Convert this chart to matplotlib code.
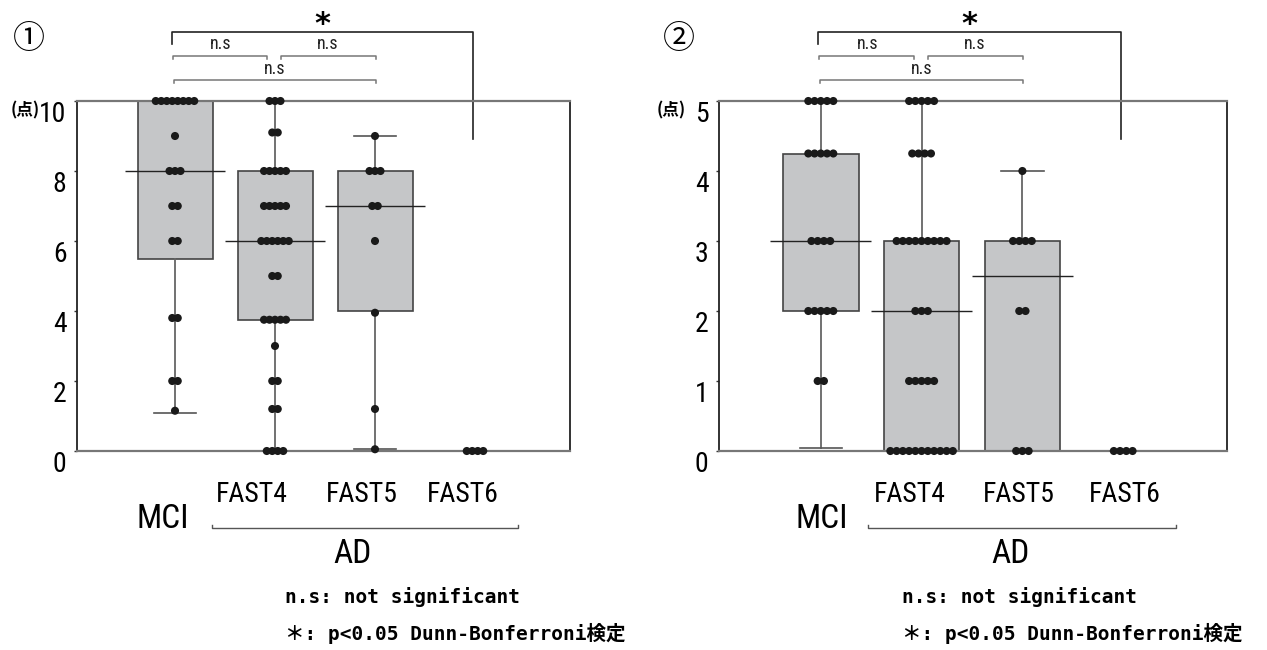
import numpy as np
import matplotlib.pyplot as plt
from matplotlib import transforms

# groups on the x axis
groups = ["MCI", "FAST4", "FAST5", "FAST6"]

# panel 1 (0-10 point score), individual scores per group
p1_mci = [10, 10, 10, 10, 10, 10, 10, 10, 9, 8, 8, 8, 7, 7, 6, 6, 3.8, 3.8, 2, 2, 1.15]
p1_fast4 = [10, 10, 10, 9.1, 9.1, 8, 8, 8, 8, 8, 7, 7, 7, 7, 7, 6, 6, 6, 6, 6, 6,
            5, 5, 3.75, 3.75, 3.75, 3.75, 3.75, 3, 2, 2, 1.2, 1.2, 0, 0, 0, 0]
p1_fast5 = [9, 8, 8, 8, 7, 7, 6, 3.95, 1.2, 0.05]
p1_fast6 = [0, 0, 0, 0]
# panel 1 box stats (MCI, FAST4, FAST5)
p1_q1 = [5.5, 3.75, 4.0]
p1_med = [8, 6, 7]
p1_q3 = [10, 8, 8]
p1_lo = [1.1, 0, 0.05]
p1_hi = [10, 10, 9]

# panel 2 (0-5 point score)
p2_mci = [5, 5, 5, 5, 5, 4.25, 4.25, 4.25, 4.25, 4.25, 3, 3, 3, 3, 2, 2, 2, 2, 2, 1, 1]
p2_fast4 = [5, 5, 5, 5, 5, 4.25, 4.25, 4.25, 4.25, 3, 3, 3, 3, 3, 3, 3, 3, 3,
            2, 2, 2, 1, 1, 1, 1, 1, 0, 0, 0, 0, 0, 0, 0, 0, 0, 0, 0]
p2_fast5 = [4, 3, 3, 3, 3, 2, 2, 0, 0, 0]
p2_fast6 = [0, 0, 0, 0]
p2_q1 = [2, 0, 0]
p2_med = [3, 2, 2.5]
p2_q3 = [4.25, 3, 3]
p2_lo = [0.04, 0, 0]
p2_hi = [5, 5, 4]

narrow = ["Roboto Condensed", "Liberation Sans Narrow", "DejaVu Sans"]
mono = ["DejaVu Sans Mono", "Noto Sans CJK JP"]
cjk = ["Noto Sans CJK JP", "DejaVu Sans"]
NARROW = dict(fontfamily=narrow, fontstretch="condensed")


def draw_panel(ax, points, q1, med, q3, lo, hi, yticks, dx):
    pos = np.arange(len(q1))
    stats = [dict(med=m, q1=a, q3=b, whislo=l, whishi=h, fliers=[])
             for m, a, b, l, h in zip(med, q1, q3, lo, hi)]
    ax.bxp(stats, positions=pos, widths=0.75, capwidths=0.42, patch_artist=True,
           showfliers=False,
           boxprops=dict(facecolor="#c5c6c8", edgecolor="#444444", linewidth=1.2),
           whiskerprops=dict(color="#666666", linewidth=1.3),
           capprops=dict(color="#555555", linewidth=1.2),
           medianprops=dict(visible=False))
    ax.hlines(med, pos - 0.5, pos + 0.5, color="#222222", linewidth=1, zorder=3)

    # swarm-like layout: points with equal score are spread side by side
    for i, vals in enumerate(points):
        vals = np.array(vals, dtype=float)
        for v in np.unique(vals):
            n = np.sum(vals == v)
            off = (np.arange(n) - (n - 1) / 2) * dx
            ax.scatter(i + off, np.full(n, v), s=34, color="#1a1a1a",
                       edgecolors="none", zorder=5, clip_on=False)

    ax.set_xticks([])
    ax.set_yticks(yticks)
    ax.set_yticklabels([str(t) for t in yticks], fontsize=20, **NARROW)
    for lab in ax.get_yticklabels():
        lab.set_va("top")
    ax.tick_params(axis="y", length=2.5, width=1, pad=5, color="#333333")
    for side in ["left", "right"]:
        ax.spines[side].set_color("#222222")
        ax.spines[side].set_linewidth(1.3)
    for side in ["top", "bottom"]:
        ax.spines[side].set_color("#777777")
        ax.spines[side].set_linewidth(1.6)


def annotate(ax, num, unit_x):
    tr = transforms.blended_transform_factory(ax.transData, ax.transAxes)
    # significance brackets
    ax.plot([-0.03, -0.03, 2.98, 2.98], [1.163, 1.197, 1.197, 0.891],
            color="#222222", lw=1.2, transform=tr, clip_on=False)
    ax.text(1.48, 1.225, r"$\mathbf{*}$", fontsize=22, ha="center", va="center",
            transform=tr)
    for x0, x1, y in [(-0.02, 0.92, 1.129), (1.06, 2.01, 1.129), (-0.01, 2.01, 1.06)]:
        ax.plot([x0, x0, x1, x1], [y - 0.008, y, y, y - 0.008], color="#777777",
                lw=1.1, transform=tr, clip_on=False)
    for x, y in [(0.46, 1.164), (1.53, 1.164), (1.0, 1.091)]:
        ax.text(x, y, "n.s", fontsize=13, ha="center", va="center",
                transform=tr, color="#222222", **NARROW)
    # panel number and unit
    ax.text(num[1], 1.177, num[0], fontsize=23, ha="center", va="center",
            transform=ax.transAxes, fontfamily=cjk)
    ax.text(unit_x, 0.974, "(点)", fontsize=12, fontweight="bold", ha="center",
            va="center", transform=ax.transAxes, fontfamily=cjk)


def group_labels(ax, mci_x, fast_x, ad_span, ad_x, note_x):
    tr = transforms.blended_transform_factory(ax.transData, ax.transAxes)
    for x, g in zip(fast_x, groups[1:]):
        ax.text(x, -0.125, g, fontsize=20, ha="center", va="center",
                transform=tr, **NARROW)
    ax.text(mci_x, -0.193, groups[0], fontsize=24, ha="center", va="center",
            transform=tr, **NARROW)
    x0, x1 = ad_span
    ax.plot([x0, x0, x1, x1], [-0.212, -0.22, -0.22, -0.212], color="#555555",
            lw=1, transform=tr, clip_on=False)
    ax.text(ad_x, -0.293, "AD", fontsize=24, ha="center", va="center",
            transform=tr, **NARROW)
    ax.text(note_x, -0.417, "n.s: not significant", fontsize=14, fontweight="bold",
            ha="left", va="center", transform=tr, fontfamily=mono)
    ax.text(note_x, -0.52, "＊: p<0.05 Dunn-Bonferroni検定", fontsize=14,
            fontweight="bold", ha="left", va="center", transform=tr, fontfamily=mono)


fig = plt.figure(figsize=(12.67, 6.5), dpi=100)
ax1 = fig.add_axes([77 / 1267, 199 / 650, 493 / 1267, 350 / 650])
ax2 = fig.add_axes([719 / 1267, 199 / 650, 508 / 1267, 350 / 650])

draw_panel(ax1, [p1_mci, p1_fast4, p1_fast5, p1_fast6], p1_q1, p1_med, p1_q3,
           p1_lo, p1_hi, [0, 2, 4, 6, 8, 10], 0.055)
ax1.set_xlim(-0.98, 3.95)
ax1.set_ylim(0, 10)

draw_panel(ax2, [p2_mci, p2_fast4, p2_fast5, p2_fast6], p2_q1, p2_med, p2_q3,
           p2_lo, p2_hi, [0, 1, 2, 3, 4, 5], 0.062)
ax2.set_xlim(-1.01, 4.03)
ax2.set_ylim(0, 5)

annotate(ax1, ("①", -0.097), -0.106)
annotate(ax2, ("②", -0.079), -0.094)

group_labels(ax1, -0.12, [0.77, 1.87, 2.88], (0.37, 3.43), 1.78, 1.10)
group_labels(ax2, 0.01, [0.88, 1.96, 3.02], (0.47, 3.52), 1.88, 0.81)

fig.savefig("out.png", dpi=100)
